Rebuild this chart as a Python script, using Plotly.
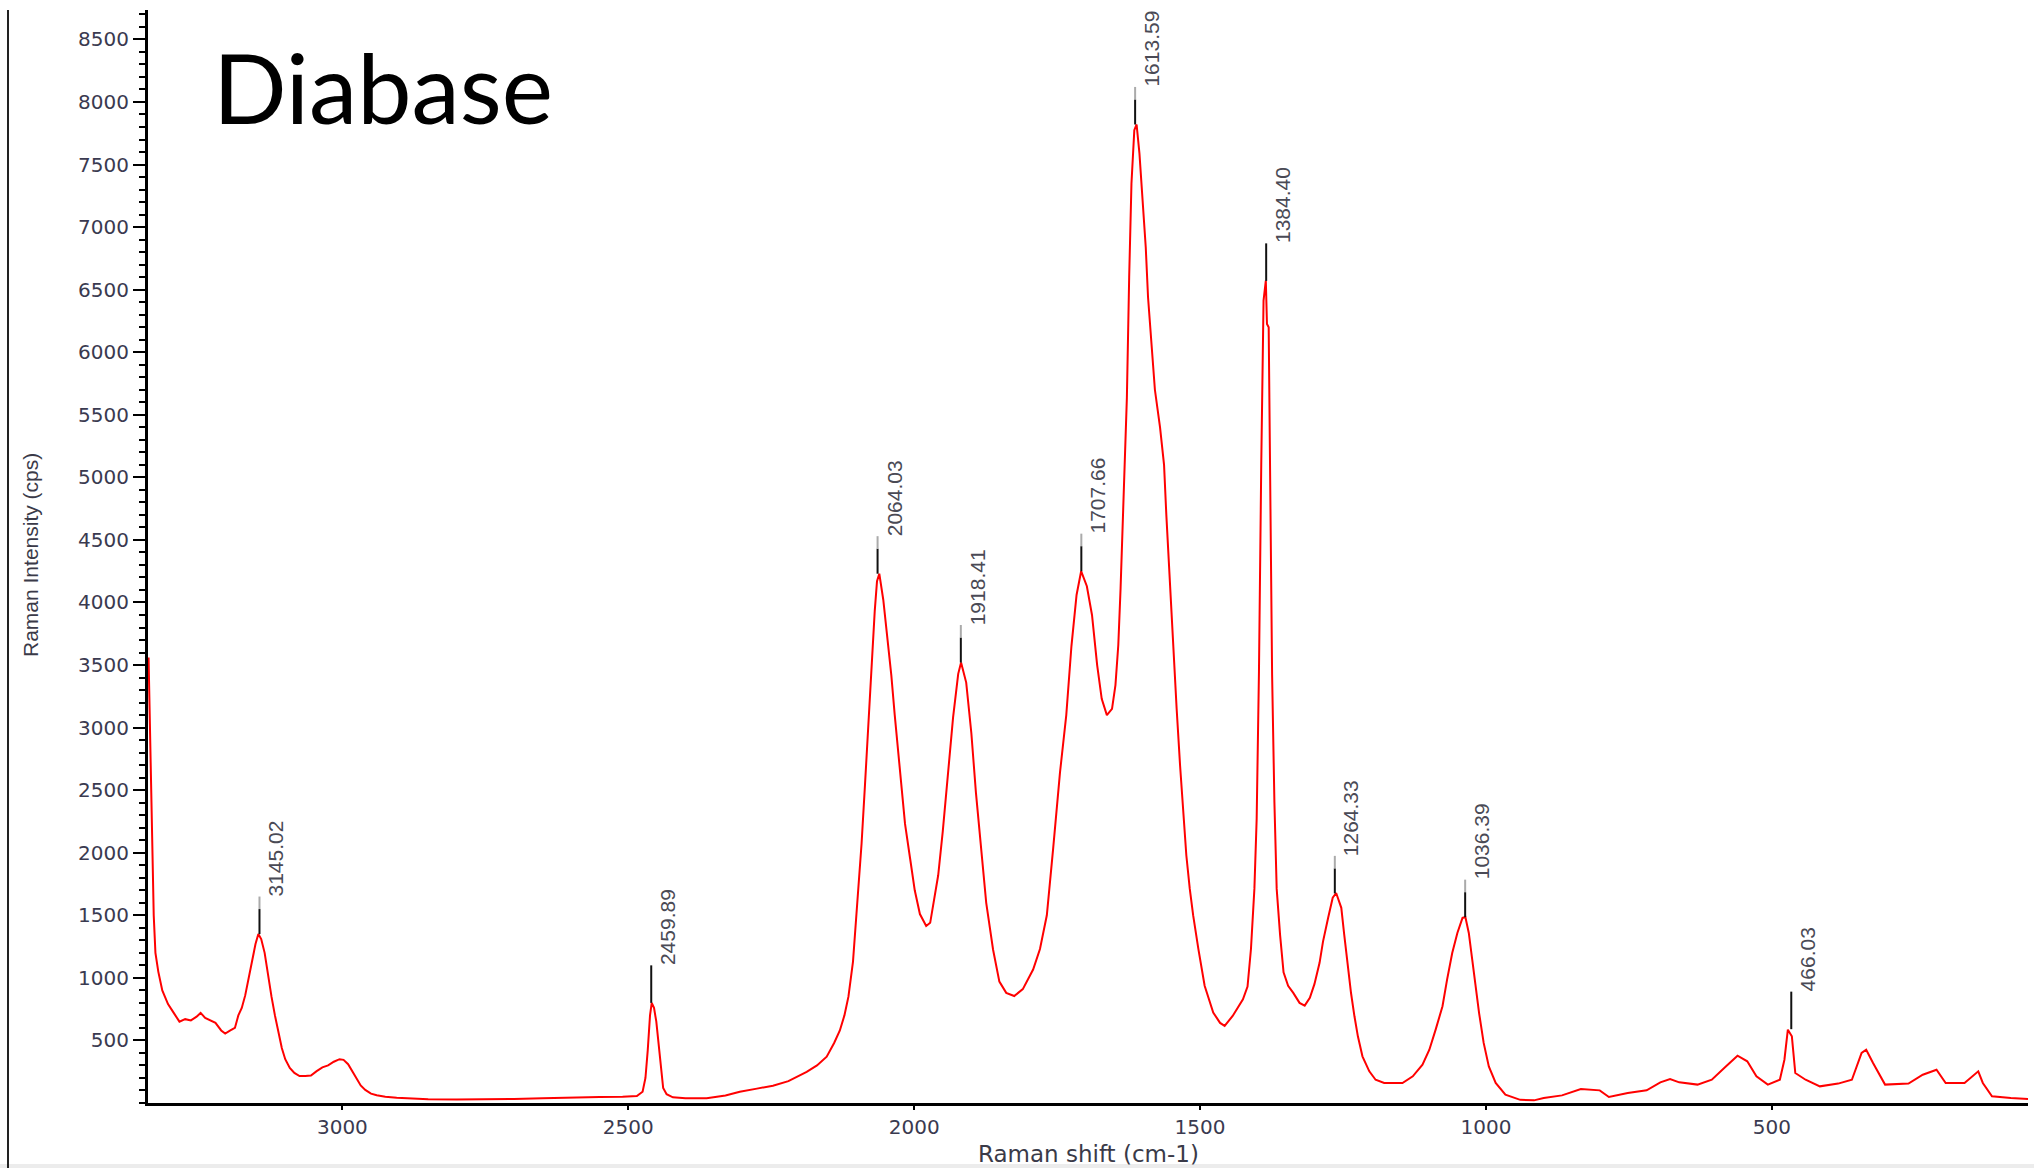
import plotly.graph_objects as go

# ---- spectrum (Raman shift cm-1, intensity cps) ----
shift = [3339, 3336, 3333, 3330, 3327, 3322, 3315, 3305, 3295, 3285, 3275, 3265, 3255, 3248, 3240,
         3232, 3222, 3212, 3205, 3196, 3188, 3182, 3176, 3170, 3164, 3158, 3152, 3147, 3142, 3136,
         3130, 3124, 3118, 3112, 3106, 3100, 3092, 3084, 3075, 3065, 3055, 3045, 3035, 3025, 3015,
         3005, 2998, 2990, 2982, 2975, 2968, 2960, 2950, 2940, 2925, 2905, 2880, 2850, 2800, 2750,
         2700, 2650, 2600, 2550, 2510, 2485, 2475, 2470, 2466, 2462, 2459, 2455, 2451, 2447, 2443,
         2439, 2433, 2422, 2400, 2363, 2330, 2305, 2275, 2247, 2220, 2188, 2170, 2153, 2140, 2130,
         2122, 2115, 2107, 2098, 2092, 2086, 2080, 2075, 2069, 2065, 2061, 2054, 2048, 2040, 2034,
         2025, 2016, 2007, 1999, 1990, 1979, 1972, 1967, 1958, 1950, 1941, 1932, 1923, 1918, 1909,
         1900, 1892, 1883, 1874, 1862, 1851, 1839, 1825, 1810, 1792, 1780, 1768, 1757, 1745, 1734,
         1725, 1716, 1708, 1698, 1689, 1680, 1672, 1663, 1654, 1648, 1643, 1639, 1634, 1628, 1624,
         1620, 1615, 1611, 1606, 1601, 1595, 1591, 1585, 1579, 1570, 1563, 1559, 1553, 1547, 1541,
         1535, 1529, 1524, 1518, 1512, 1503, 1492, 1477, 1465, 1457, 1443, 1425, 1417, 1411, 1405,
         1401, 1397, 1393, 1389, 1385, 1383, 1380, 1377, 1374, 1370, 1366, 1360, 1354, 1346, 1337,
         1326, 1317, 1308, 1300, 1291, 1285, 1276, 1268, 1262, 1253, 1248, 1242, 1236, 1230, 1224,
         1216, 1204, 1193, 1178, 1146, 1128, 1111, 1099, 1088, 1076, 1068, 1059, 1050, 1041, 1036,
         1030, 1024, 1018, 1012, 1004, 995, 983, 966, 940, 916, 899, 867, 834, 801, 785,
         752, 719, 695, 678, 662, 630, 605, 580, 560, 543, 527, 507, 486, 478, 472,
         465, 459, 441, 416, 384, 360, 343, 335, 323, 302, 261, 236, 212, 196, 163,
         139, 131, 115, 82, 52]
intensity = [3560, 2900, 2100, 1500, 1200, 1050, 900, 790, 720, 650, 670, 660, 690, 720, 680,
             660, 640, 580, 555, 580, 600, 700, 760, 860, 1000, 1130, 1270, 1350, 1310, 1200,
             1020, 850, 700, 560, 440, 350, 280, 240, 215, 215, 220, 255, 285, 300, 330,
             350, 345, 310, 250, 195, 140, 105, 75, 62, 50, 42, 36, 30, 28, 28,
             32, 38, 45, 48, 50, 55, 90, 200, 420, 700, 800, 760, 650, 460, 250,
             120, 70, 45, 38, 38, 60, 90, 115, 138, 175, 249, 300, 370, 480, 580,
             700, 850, 1130, 1665, 2074, 2546, 3018, 3506, 3931, 4170, 4230, 4020, 3760, 3420, 3100,
             2640, 2230, 1950, 1700, 1510, 1415, 1440, 1570, 1820, 2170, 2640, 3080, 3430, 3520, 3360,
             2955, 2480, 2010, 1600, 1225, 970, 880, 855, 910, 1067, 1231, 1500, 2031, 2640, 3100,
             3650, 4060, 4250, 4130, 3900, 3500, 3230, 3100, 3150, 3340, 3660, 4115, 4755, 5637, 6599,
             7346, 7774, 7820, 7587, 7266, 6839, 6439, 6039, 5700, 5400, 5100, 4700, 4168, 3661, 3153,
             2699, 2299, 1978, 1711, 1497, 1231, 937, 723, 640, 616, 696, 829, 930, 1231, 1711,
             2272, 3447, 5103, 6413, 6572, 6226, 6200, 4702, 3420, 2405, 1711, 1340, 1044, 937, 880,
             800, 778, 840, 950, 1120, 1290, 1480, 1640, 1678, 1560, 1350, 1092, 879, 693, 533,
             373, 253, 186, 160, 160, 213, 306, 426, 586, 773, 986, 1199, 1359, 1479, 1486,
             1359, 1146, 932, 719, 480, 293, 160, 67, 25, 21, 40, 61, 112, 101, 48,
             80, 101, 165, 192, 165, 147, 186, 293, 378, 333, 213, 147, 186, 346, 586,
             533, 240, 186, 133, 155, 186, 400, 426, 320, 147, 155, 226, 266, 160, 160,
             253, 160, 53, 40, 32]

# ---- labelled peaks ----
peak_pos = [3145.02, 2459.89, 2064.03, 1918.41, 1707.66, 1613.59, 1384.40, 1264.33, 1036.39, 466.03]
peak_val = [1350, 800, 4230, 3520, 4250, 7820, 6570, 1675, 1485, 590]
peak_labels = ["3145.02", "2459.89", "2064.03", "1918.41", "1707.66", "1613.59", "1384.40",
               "1264.33", "1036.39", "466.03"]
peak_graytip = [True, False, True, True, True, True, False, True, True, False]

x_ticks = [3000, 2500, 2000, 1500, 1000, 500]
y_ticks = [500, 1000, 1500, 2000, 2500, 3000, 3500, 4000, 4500, 5000, 5500, 6000, 6500, 7000,
           7500, 8000, 8500]

W, H = 2034, 1168
L, R, T, B = 148, 6, 10, 65
PW, PH = W - L - R, H - T - B


def px(xp):
    return (xp - L) / PW


def py(yp):
    return (H - B - yp) / PH


fig = go.Figure()
fig.add_trace(go.Scatter(x=shift, y=intensity, mode="lines",
                         line=dict(color="#ff0000", width=2), hoverinfo="skip",
                         showlegend=False))

shapes = []
annotations = []
MARK = 300
for p, v, lab, g in zip(peak_pos, peak_val, peak_labels, peak_graytip):
    top_black = v + (200 if g else MARK)
    shapes.append(dict(type="line", xref="x", yref="y", x0=p, x1=p, y0=v, y1=top_black,
                       line=dict(color="#111111", width=2)))
    if g:
        shapes.append(dict(type="line", xref="x", yref="y", x0=p, x1=p, y0=top_black,
                           y1=v + MARK, line=dict(color="#aaaaaa", width=2)))
    annotations.append(dict(x=p, y=v + MARK, xref="x", yref="y", text=lab, showarrow=False,
                            textangle=-90, xanchor="left", yanchor="bottom", xshift=3,
                            yshift=-2,
                            font=dict(family="Liberation Sans", size=21, color="#4a4a55")))

# left frame line and light bottom edge
shapes.append(dict(type="line", xref="paper", yref="paper", x0=px(8), x1=px(8),
                   y0=py(10), y1=py(1168), line=dict(color="#222222", width=2)))
shapes.append(dict(type="rect", xref="paper", yref="paper", x0=px(0), x1=px(2034),
                   y0=py(1164), y1=py(1168), line=dict(width=0), fillcolor="#ececec",
                   layer="below"))

annotations.append(dict(x=px(211), y=py(86), xref="paper", yref="paper", text="Diabase",
                        showarrow=False, xanchor="left", yanchor="middle",
                        font=dict(family="Lato", size=97, color="#000000")))
annotations.append(dict(x=px(30), y=py(555), xref="paper", yref="paper",
                        text="Raman Intensity (cps)", showarrow=False, textangle=-90,
                        xanchor="center", yanchor="middle",
                        font=dict(family="Liberation Sans", size=21, color="#3a3a48")))
annotations.append(dict(x=px(1088), y=py(1154), xref="paper", yref="paper",
                        text="Raman shift (cm-1)", showarrow=False,
                        xanchor="center", yanchor="middle",
                        font=dict(family="DejaVu Sans", size=23, color="#3a3a48")))

tickfont = dict(family="DejaVu Sans", size=20, color="#3a3a50")

fig.update_layout(
    width=W, height=H,
    margin=dict(l=L, r=R, t=T, b=B, pad=0),
    paper_bgcolor="white", plot_bgcolor="white",
    shapes=shapes, annotations=annotations,
    xaxis=dict(range=[3340, 52], autorange=False, showgrid=False, zeroline=False,
               showline=True, linecolor="#000000", linewidth=3,
               ticks="outside", ticklen=4, tickwidth=2, tickcolor="#000000",
               tickmode="array", tickvals=x_ticks, ticktext=[str(t) for t in x_ticks],
               tickfont=tickfont),
    yaxis=dict(range=[0, 8735], autorange=False, showgrid=False, zeroline=False,
               showline=True, linecolor="#000000", linewidth=3,
               ticks="outside", ticklen=12, tickwidth=2, tickcolor="#000000",
               tickmode="array", tickvals=y_ticks, ticktext=[str(t) for t in y_ticks],
               tickfont=tickfont,
               minor=dict(tickmode="linear", tick0=0, dtick=100, ticks="outside",
                          ticklen=6, tickwidth=1.5, tickcolor="#000000")),
)

fig.write_html("out.html", config={"displayModeBar": False},
               post_script="document.body.style.margin='0px';document.body.style.overflow='hidden';")
